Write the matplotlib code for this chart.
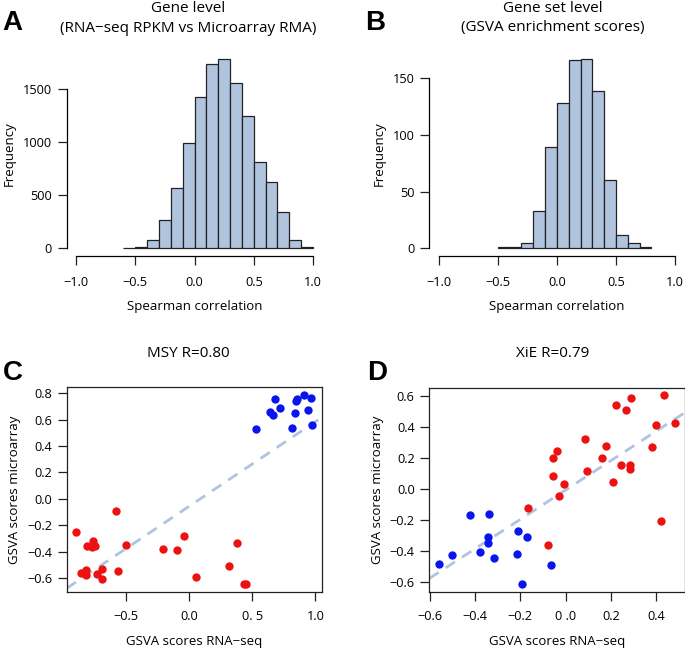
import numpy as np
import matplotlib
matplotlib.use("Agg")
import matplotlib.pyplot as plt

plt.rcParams['font.family'] = ['Open Sans', 'DejaVu Sans']

# ---------------- data ----------------
# Panel A: gene-level Spearman correlation histogram
a_edges = [-0.6, -0.5, -0.4, -0.3, -0.2, -0.1, 0.0, 0.1, 0.2, 0.3, 0.4, 0.5, 0.6, 0.7, 0.8, 0.9, 1.0]
a_counts = [3, 13, 82, 264, 572, 990, 1431, 1733, 1783, 1563, 1252, 818, 626, 346, 75, 9]

# Panel B: gene-set-level Spearman correlation histogram
b_edges = [-0.5, -0.4, -0.3, -0.2, -0.1, 0.0, 0.1, 0.2, 0.3, 0.4, 0.5, 0.6, 0.7, 0.8]
b_counts = [1, 1, 5, 33, 89, 128, 166, 167, 139, 60, 12, 5, 1]

# Panel C: MSY
c_blue_x = [0.534, 0.639, 0.666, 0.679, 0.718, 0.818, 0.837, 0.845, 0.858, 0.908, 0.939, 0.963, 0.976]
c_blue_y = [0.532, 0.658, 0.638, 0.757, 0.689, 0.537, 0.653, 0.744, 0.757, 0.787, 0.671, 0.765, 0.559]
c_red_x = [-0.892, -0.803, -0.755, -0.768, -0.742, -0.853, -0.813, -0.813, -0.729, -0.689, -0.684,
           -0.579, -0.561, -0.497, -0.203, -0.097, -0.042, 0.053, 0.318, 0.384, 0.437, 0.450]
c_red_y = [-0.253, -0.359, -0.316, -0.365, -0.354, -0.562, -0.539, -0.577, -0.570, -0.532, -0.608,
           -0.096, -0.549, -0.347, -0.377, -0.390, -0.284, -0.595, -0.511, -0.334, -0.646, -0.646]

# Panel D: XiE
d_blue_x = [-0.560, -0.500, -0.421, -0.379, -0.338, -0.341, -0.341, -0.316, -0.209, -0.216, -0.172, -0.194, -0.065]
d_blue_y = [-0.485, -0.431, -0.170, -0.408, -0.160, -0.313, -0.350, -0.449, -0.274, -0.423, -0.309, -0.617, -0.492]
d_red_x = [-0.166, -0.078, -0.056, -0.038, -0.056, -0.007, -0.028, 0.084, 0.096, 0.163, 0.179, 0.225,
           0.268, 0.291, 0.244, 0.287, 0.287, 0.212, 0.384, 0.399, 0.435, 0.484, 0.422]
d_red_y = [-0.121, -0.360, 0.201, 0.244, 0.082, 0.035, -0.047, 0.326, 0.117, 0.198, 0.280, 0.546,
           0.511, 0.591, 0.153, 0.155, 0.132, 0.045, 0.274, 0.416, 0.608, 0.431, -0.205]

hist_xticks = [-1.0, -0.5, 0.0, 0.5, 1.0]
hist_xticklabels = ['\u22121.0', '\u22120.5', '0.0', '0.5', '1.0']
a_yticks = [0, 500, 1000, 1500]
b_yticks = [0, 50, 100, 150]
c_xticks = [-0.5, 0.0, 0.5, 1.0]
c_xticklabels = ['\u22120.5', '0.0', '0. 5', '1.0']
c_yticks = [-0.6, -0.4, -0.2, 0.0, 0.2, 0.4, 0.6, 0.8]
d_xticks = [-0.6, -0.4, -0.2, 0.0, 0.2, 0.4]
d_xticklabels = ['\u22120.6', '\u22120.4', '\u22120.2', '0 .0', '0.2', '0.4']
d_yticks = [-0.6, -0.4, -0.2, 0.0, 0.2, 0.4, 0.6]

# ---------------- style ----------------
W, H = 685, 650
fig = plt.figure(figsize=(W / 100, H / 100), dpi=100)

HIST_FILL = '#b0c4de'
EDGE = '#222222'
RED = '#ee1111'
BLUE = '#0a14ee'
FS_TICK = 9.2
FS_LAB = 9.5
FS_TITLE = 11


def ax_px(left, right, top, bottom):
    return fig.add_axes([left / W, 1 - bottom / H, (right - left) / W, (bottom - top) / H])


def fmt_lab(v):
    s = f"{v:.1f}"
    return s.replace('-', '\u2212')


def hist_panel(ax, edges, counts, yticks):
    e = np.array(edges)
    ax.bar(e[:-1], counts, width=np.diff(e), align='edge', color=HIST_FILL,
           edgecolor=EDGE, linewidth=0.9)
    ymax = max(counts)
    ax.set_xlim(-1.08, 1.08)
    ax.set_ylim(-0.04 * ymax, 1.04 * ymax)
    for s in ['top', 'right']:
        ax.spines[s].set_visible(False)
    ax.spines['left'].set_bounds(yticks[0], yticks[-1])
    ax.spines['bottom'].set_bounds(-1, 1)
    ax.set_xticks(hist_xticks)
    ax.set_xticklabels(hist_xticklabels)
    ax.set_yticks(yticks)
    ax.set_yticklabels([str(t) for t in yticks])
    ax.tick_params(axis='both', length=6.5, width=0.9, labelsize=FS_TICK, color=EDGE)
    ax.tick_params(axis='x', pad=8)
    ax.tick_params(axis='y', pad=4)
    for s in ['left', 'bottom']:
        ax.spines[s].set_linewidth(0.9)
    ax.set_xlabel('Spearman correlation', fontsize=FS_LAB, labelpad=8)
    ax.set_ylabel('Frequency', fontsize=FS_LAB, labelpad=5)


def scatter_panel(ax, bx, by, rx, ry, xticks, xlabels, yticks):
    ax.scatter(rx, ry, s=36, color=RED, linewidths=0, zorder=3)
    ax.scatter(bx, by, s=36, color=BLUE, linewidths=0, zorder=3)
    allx = np.array(list(bx) + list(rx))
    ally = np.array(list(by) + list(ry))
    dx = allx.max() - allx.min()
    dy = ally.max() - ally.min()
    ax.set_xlim(allx.min() - 0.04 * dx, allx.max() + 0.04 * dx)
    ax.set_ylim(ally.min() - 0.04 * dy, ally.max() + 0.04 * dy)
    slope, icpt = np.polyfit(allx, ally, 1)
    ax.axline((0, icpt), slope=slope, color=HIST_FILL, lw=2.0, ls=(0, (4, 3)), zorder=2)
    ax.set_xticks(xticks)
    ax.set_xticklabels(xlabels)
    ax.set_yticks(yticks)
    ax.set_yticklabels([fmt_lab(v) for v in yticks])
    ax.tick_params(axis='both', length=6.5, width=0.9, labelsize=FS_TICK, color=EDGE)
    ax.tick_params(axis='x', pad=7)
    ax.tick_params(axis='y', pad=4)
    for s in ax.spines.values():
        s.set_linewidth(0.9)
        s.set_color(EDGE)
    ax.set_xlabel('GSVA scores RNA\u2212seq', fontsize=FS_LAB, labelpad=8)
    ax.set_ylabel('GSVA scores microarray', fontsize=FS_LAB, labelpad=4)


# Panel A
axA = ax_px(66.5, 322.5, 51.6, 256)
hist_panel(axA, a_edges, a_counts, a_yticks)
# Panel B
axB = ax_px(429.3, 684.5, 51.3, 256)
hist_panel(axB, b_edges, b_counts, b_yticks)
# Panel C
axC = ax_px(66.7, 321.7, 387.3, 591.7)
scatter_panel(axC, c_blue_x, c_blue_y, c_red_x, c_red_y, c_xticks, c_xticklabels, c_yticks)
# Panel D
axD = ax_px(429.3, 684.5, 387.7, 591.7)
scatter_panel(axD, d_blue_x, d_blue_y, d_red_x, d_red_y, d_xticks, d_xticklabels, d_yticks)


def ftext(x, y, s, **kw):
    fig.text(x / W, 1 - y / H, s, **kw)


# titles
ftext(188, 8, 'Gene level', ha='center', va='center', fontsize=FS_TITLE)
ftext(188, 28, '(RNA\u2212seq RPKM vs Microarray RMA)', ha='center', va='center', fontsize=FS_TITLE)
ftext(553, 8, 'Gene set level', ha='center', va='center', fontsize=FS_TITLE)
ftext(553, 28, '(GSVA enrichment scores)', ha='center', va='center', fontsize=FS_TITLE)
ftext(188, 353, 'MSY R=0.80', ha='center', va='center', fontsize=FS_TITLE)
ftext(553, 353, 'XiE R=0.79', ha='center', va='center', fontsize=FS_TITLE)

# panel letters
for lab, x, y in [('A', 2, 23), ('B', 365, 23), ('C', 3, 373), ('D', 367, 373)]:
    ftext(x, y, lab, ha='left', va='center', fontsize=20, fontweight='bold',
          family=['Liberation Sans', 'DejaVu Sans'])

fig.savefig('out.png', dpi=100)
